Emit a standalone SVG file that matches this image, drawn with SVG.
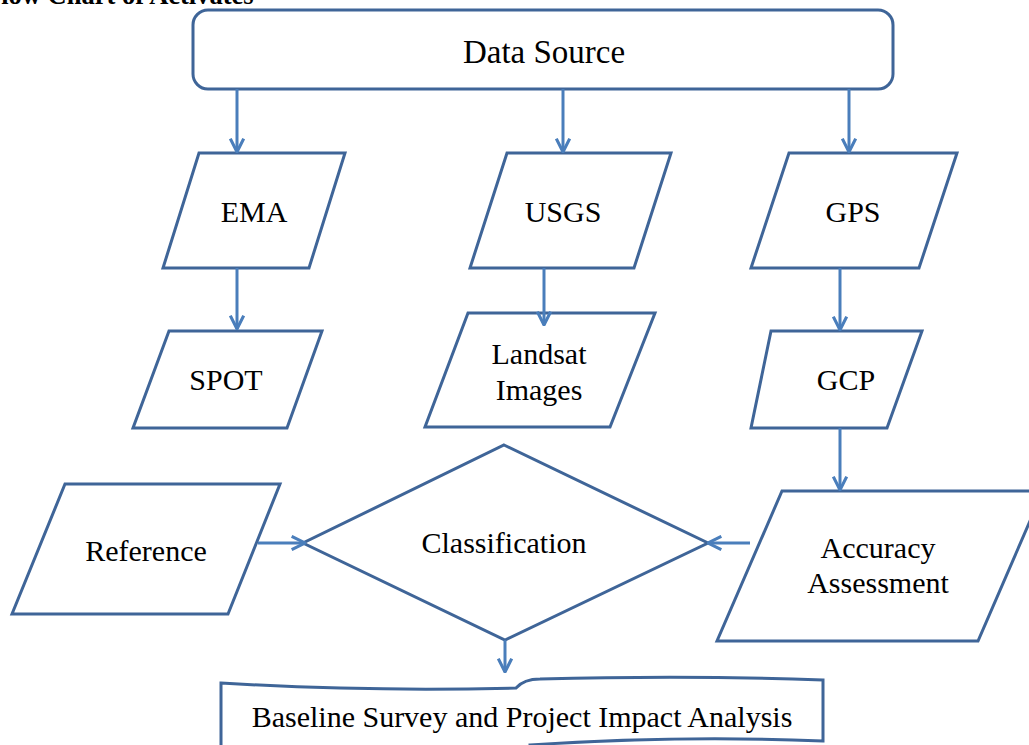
<svg xmlns="http://www.w3.org/2000/svg" width="1029" height="745" viewBox="0 0 1029 745">
<style>
.shape{fill:#ffffff;stroke:#3f6598;stroke-width:3;stroke-linejoin:miter}
.lbl{font-size:30px;fill:#000;text-anchor:middle}
.conn{stroke:#4a7ebb;stroke-width:3;fill:none}
.title{font-size:26.5px;font-weight:bold;fill:#000}
</style>
<defs>
<marker id="arr" viewBox="0 0 12 12" refX="11" refY="6" markerUnits="userSpaceOnUse" markerWidth="16" markerHeight="16" orient="auto">
<path d="M1,1 L11,6 L1,11" fill="none" stroke="#4a7ebb" stroke-width="2.3"/>
</marker>
</defs>
<rect width="1029" height="745" fill="#ffffff"/>
<text class="title" font-family="Liberation Serif, serif" x="-15" y="4">Flow Chart of Activates</text>

<g id="data-source">
<rect class="shape" x="193" y="10" width="700" height="79" rx="15" ry="15"/>
<text class="lbl" font-family="Liberation Serif, serif" x="544" y="63" style="font-size:33px">Data Source</text>
</g>

<g id="ema">
<polygon class="shape" points="199,153 345,153 309,268 163,268"/>
<text class="lbl" font-family="Liberation Serif, serif" x="254" y="222">EMA</text>
</g>
<g id="usgs">
<polygon class="shape" points="507,153 671,153 634,268 470,268"/>
<text class="lbl" font-family="Liberation Serif, serif" x="563" y="222">USGS</text>
</g>
<g id="gps">
<polygon class="shape" points="789,153 957,153 919,268 751,268"/>
<text class="lbl" font-family="Liberation Serif, serif" x="853" y="222">GPS</text>
</g>

<g id="spot">
<polygon class="shape" points="169,331 322,331 287,428 133,428"/>
<text class="lbl" font-family="Liberation Serif, serif" x="226" y="390">SPOT</text>
</g>
<g id="landsat">
<polygon class="shape" points="468,313 655,313 610,427 425,427"/>
<text class="lbl" font-family="Liberation Serif, serif" x="539" y="364">Landsat</text>
<text class="lbl" font-family="Liberation Serif, serif" x="539" y="400">Images</text>
</g>
<g id="gcp">
<polygon class="shape" points="771,331 922,331 887,428 751,428"/>
<text class="lbl" font-family="Liberation Serif, serif" x="846" y="390">GCP</text>
</g>

<g id="reference">
<polygon class="shape" points="65,484 280,484 228,614 12,614"/>
<text class="lbl" font-family="Liberation Serif, serif" x="146" y="561">Reference</text>
</g>
<g id="classification">
<polygon class="shape" points="504,445 708,543 505,640 303,543"/>
<text class="lbl" font-family="Liberation Serif, serif" x="504" y="553">Classification</text>
</g>
<g id="accuracy">
<polygon class="shape" points="782,491 1043,491 978,641 717,641"/>
<text class="lbl" font-family="Liberation Serif, serif" x="878" y="558">Accuracy</text>
<text class="lbl" font-family="Liberation Serif, serif" x="878" y="593">Assessment</text>
</g>

<g id="baseline">
<path class="shape" d="M221,683 Q370,692 516,688 Q524,679 540,679 Q690,675 823,680 L823,741 Q680,735 530,745 L530,760 L221,760 Z"/>
<text class="lbl" font-family="Liberation Serif, serif" x="522" y="727">Baseline Survey and Project Impact Analysis</text>
</g>

<g id="connectors">
<line class="conn" x1="237" y1="89" x2="237" y2="152" marker-end="url(#arr)"/>
<line class="conn" x1="563" y1="89" x2="563" y2="152" marker-end="url(#arr)"/>
<line class="conn" x1="849" y1="89" x2="849" y2="152" marker-end="url(#arr)"/>
<line class="conn" x1="237" y1="268" x2="237" y2="329" marker-end="url(#arr)"/>
<line class="conn" x1="544" y1="268" x2="544" y2="325" marker-end="url(#arr)"/>
<line class="conn" x1="840" y1="268" x2="840" y2="330" marker-end="url(#arr)"/>
<line class="conn" x1="840" y1="428" x2="840" y2="490" marker-end="url(#arr)"/>
<line class="conn" x1="258" y1="543" x2="305" y2="543" marker-end="url(#arr)"/>
<line class="conn" x1="750" y1="543" x2="708" y2="543" marker-end="url(#arr)"/>
<line class="conn" x1="505" y1="640" x2="505" y2="672" marker-end="url(#arr)"/>
</g>
</svg>
